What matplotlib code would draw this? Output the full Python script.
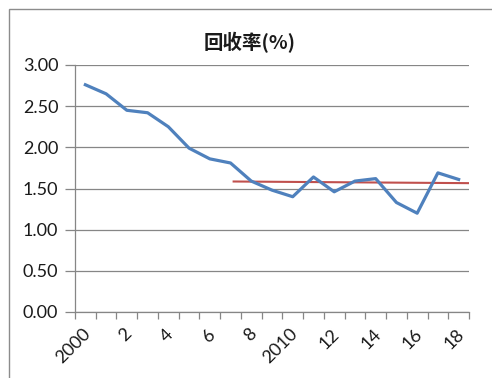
import matplotlib
matplotlib.use("Agg")
import matplotlib.pyplot as plt
from matplotlib.patches import Rectangle
from matplotlib.transforms import ScaledTranslation
import numpy as np

years = list(range(2000, 2019))
recovery = [2.76, 2.65, 2.45, 2.42, 2.25, 1.99, 1.86, 1.81, 1.59, 1.48, 1.40,
            1.64, 1.46, 1.59, 1.62, 1.33, 1.20, 1.69, 1.61]
trend_x = [7.15, 18.5]
trend_y = [1.585, 1.565]
xlabels = ["2000", "", "2", "", "4", "", "6", "", "8", "", "2010", "", "12", "",
           "14", "", "16", "", "18"]
yticks = [0.0, 0.5, 1.0, 1.5, 2.0, 2.5, 3.0]

plt.rcParams['font.family'] = ['Lato', 'Noto Sans CJK SC', 'DejaVu Sans']

W, H = 492, 378
fig = plt.figure(figsize=(W / 100, H / 100), dpi=100)
fig.patch.set_facecolor('white')

# outer chart frame
fig.patches.append(Rectangle((9 / W, -0.1), 1.2, 1 - 9 / H + 0.1,
                             transform=fig.transFigure, fill=False,
                             edgecolor='#8c8c8c', linewidth=1.0))

ax = fig.add_axes([75 / W, 1 - 312 / H, (469 - 75) / W, (312 - 65) / H])
x = np.arange(len(years))
ax.plot(x, recovery, color='#4F81BD', linewidth=2.3, solid_joinstyle='round',
        zorder=3)
ax.plot(trend_x, trend_y, color='#C0504D', linewidth=1.5, zorder=2)

ax.set_xlim(-0.5, len(years) - 0.5)
ax.set_ylim(0, 3.0)
ax.set_yticks(yticks)
ax.set_yticklabels([f"{v:.2f}" for v in yticks], fontsize=13, color='#1a1a1a')
ax.yaxis.grid(True, color='#868686', linewidth=0.9)
ax.set_axisbelow(True)

ax.set_xticks(np.arange(-0.5, len(years), 1.0), minor=False)
ax.set_xticklabels([])
ax.set_xticks(x, minor=True)
ax.set_xticklabels(xlabels, minor=True, rotation=45, ha='right',
                   va='top', rotation_mode='anchor', fontsize=13,
                   color='#1a1a1a')
ax.tick_params(axis='x', which='minor', length=0, pad=10)
ax.tick_params(axis='x', which='major', length=5, color='#868686', width=0.9)
ax.tick_params(axis='y', length=7, color='#868686', width=0.9, pad=5)
off = ScaledTranslation(-3 / 100, 0, fig.dpi_scale_trans)
for lab in ax.get_xticklabels(minor=True):
    lab.set_transform(lab.get_transform() + off)

for s in ['top', 'right']:
    ax.spines[s].set_visible(False)
for s in ['left', 'bottom']:
    ax.spines[s].set_color('#868686')
    ax.spines[s].set_linewidth(0.9)

fig.text(250 / W, 1 - 43 / H, "回收率(%)", ha='center', va='center',
         fontsize=14, fontweight='bold', color='#1a1a1a',
         family=['Noto Sans CJK SC', 'DejaVu Sans'])

fig.savefig("out.png", dpi=100)
